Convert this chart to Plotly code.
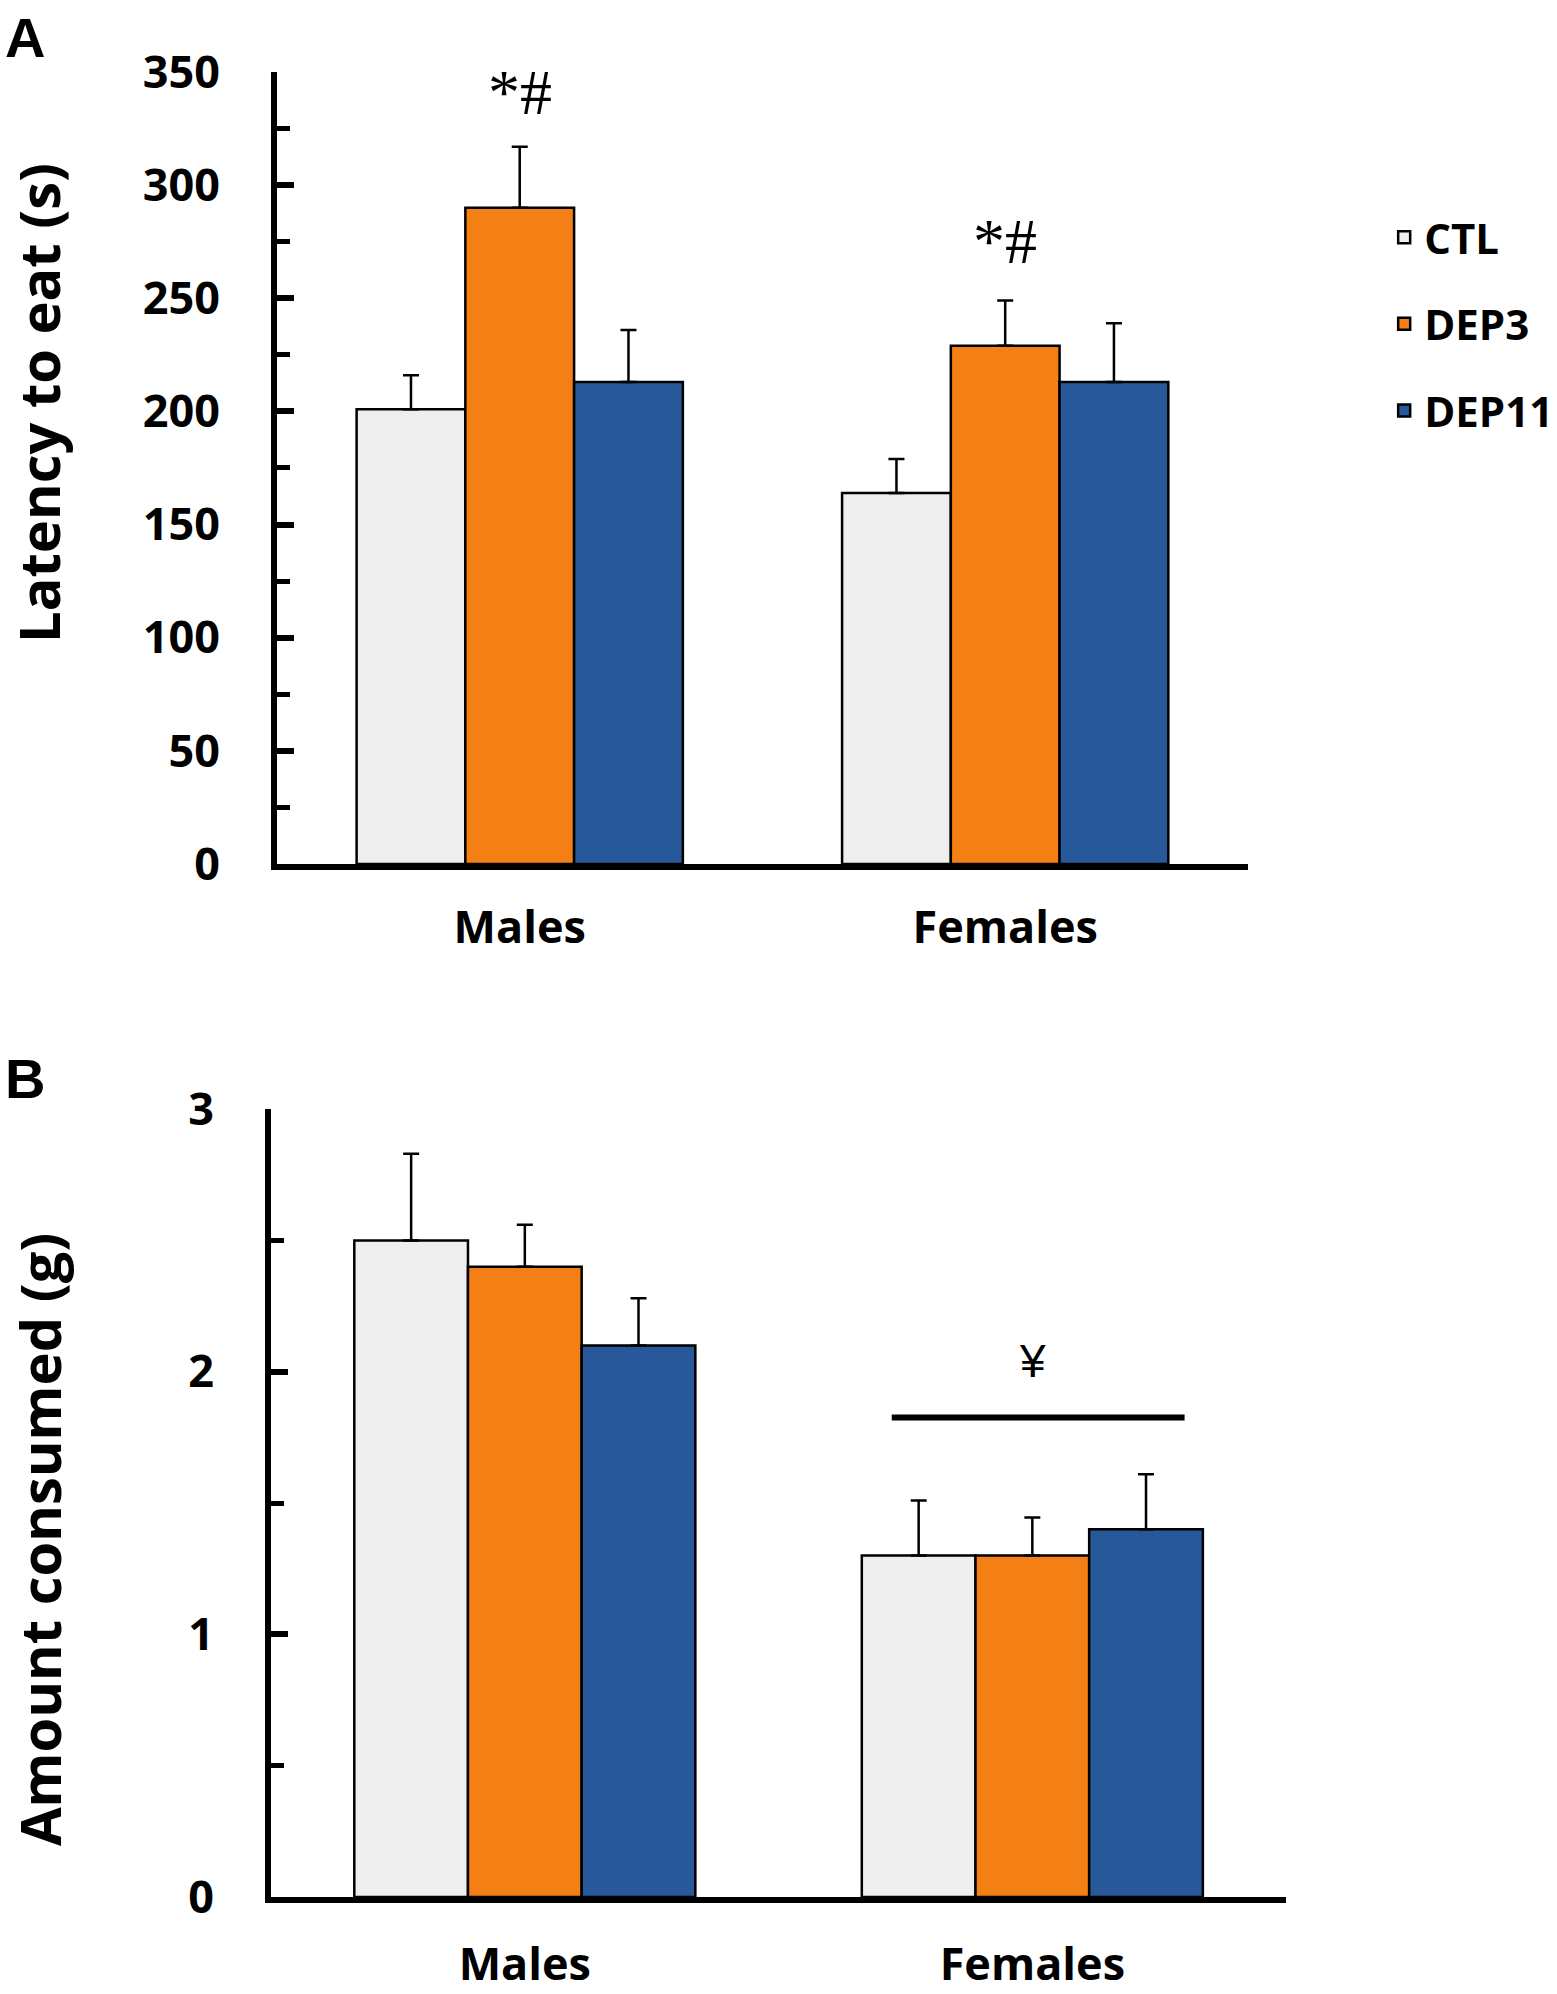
import plotly.graph_objects as go

groups = ["Males", "Females"]
series = ["CTL", "DEP3", "DEP11"]

latency_ctl = [201, 164]
latency_dep3 = [290, 229]
latency_dep11 = [213, 213]
latency_ctl_err = [15, 15]
latency_dep3_err = [27, 20]
latency_dep11_err = [23, 26]

amount_ctl = [2.5, 1.3]
amount_dep3 = [2.4, 1.3]
amount_dep11 = [2.1, 1.4]
amount_ctl_err = [0.33, 0.21]
amount_dep3_err = [0.16, 0.145]
amount_dep11_err = [0.18, 0.21]

yticks_a = [0, 50, 100, 150, 200, 250, 300, 350]
yticks_b = [0, 1, 2, 3]

colors = {"CTL": "#EEEEEE", "DEP3": "#F47F14", "DEP11": "#27599A"}

fig = go.Figure()

lat_vals = {"CTL": (latency_ctl, latency_ctl_err),
            "DEP3": (latency_dep3, latency_dep3_err),
            "DEP11": (latency_dep11, latency_dep11_err)}
amt_vals = {"CTL": (amount_ctl, amount_ctl_err),
            "DEP3": (amount_dep3, amount_dep3_err),
            "DEP11": (amount_dep11, amount_dep11_err)}

for s in series:
    v, e = lat_vals[s]
    fig.add_trace(go.Bar(
        x=groups, y=v, name=s, legendgroup=s, showlegend=True,
        marker=dict(color=colors[s], line=dict(color="black", width=2.5)),
        error_y=dict(type="data", array=e, arrayminus=[0]*len(e), symmetric=False,
                     color="black", thickness=2.5, width=8),
        xaxis="x", yaxis="y"))
for s in series:
    v, e = amt_vals[s]
    fig.add_trace(go.Bar(
        x=groups, y=v, name=s, legendgroup=s, showlegend=False,
        marker=dict(color=colors[s], line=dict(color="black", width=2.5)),
        error_y=dict(type="data", array=e, arrayminus=[0]*len(e), symmetric=False,
                     color="black", thickness=2.5, width=8),
        xaxis="x2", yaxis="y2"))

tickfont = dict(family="Open Sans", size=45, color="black", weight="bold")
catfont = dict(family="Open Sans", size=45, color="black", weight="bold")

fig.update_layout(
    width=1557, height=1994,
    margin=dict(l=0, r=0, t=0, b=0, autoexpand=False),
    paper_bgcolor="white", plot_bgcolor="white",
    barmode="group", bargap=0.328, bargroupgap=0,
    showlegend=True,
    legend=dict(x=0.889, y=0.898, xanchor="left", yanchor="top",
                font=dict(family="Open Sans", size=42, color="black", weight="bold"),
                tracegroupgap=29, bgcolor="rgba(0,0,0,0)"),
    xaxis=dict(domain=[0.1779, 0.8015], anchor="y", type="category", automargin=False,
               range=[-0.5, 1.5], showline=True, linecolor="black", linewidth=6,
               ticks="", tickfont=catfont, ticklabelstandoff=19, showgrid=False,
               zeroline=False),
    yaxis=dict(domain=[0.5667, 0.9639], anchor="x", range=[0, 350], automargin=False,
               tickvals=yticks_a, showline=True, linecolor="black", linewidth=6,
               ticks="inside", ticklen=17, tickwidth=6, tickcolor="black",
               minor=dict(dtick=25, ticks="inside", ticklen=13, tickwidth=5, tickcolor="black"),
               tickfont=tickfont, ticklabelstandoff=42, showgrid=False, zeroline=False),
    xaxis2=dict(domain=[0.1741, 0.826], anchor="y2", type="category", automargin=False,
                range=[-0.5, 1.5], showline=True, linecolor="black", linewidth=6,
                ticks="", tickfont=catfont, ticklabelstandoff=23, showgrid=False,
                zeroline=False),
    yaxis2=dict(domain=[0.0486, 0.4438], anchor="x2", range=[0, 3], automargin=False,
                tickvals=yticks_b, showline=True, linecolor="black", linewidth=6,
                ticks="inside", ticklen=17, tickwidth=6, tickcolor="black",
                minor=dict(dtick=0.5, ticks="inside", ticklen=13, tickwidth=5, tickcolor="black"),
                tickfont=tickfont, ticklabelstandoff=42, showgrid=False, zeroline=False),
)

annots = [
    dict(text="A", x=0.002, y=0.998, xref="paper", yref="paper", xanchor="left", yanchor="top",
         showarrow=False, font=dict(family="Liberation Sans", size=56, color="black", weight="bold")),
    dict(text="B", x=0.002, y=0.476, xref="paper", yref="paper", xanchor="left", yanchor="top",
         showarrow=False, font=dict(family="Liberation Sans", size=56, color="black", weight="bold")),
    dict(text="Latency to eat (s)", x=0.0245, y=0.798, xref="paper", yref="paper",
         xanchor="center", yanchor="middle", textangle=-90, showarrow=False,
         font=dict(family="Open Sans", size=56, color="black", weight="bold")),
    dict(text="Amount consumed (g)", x=0.0255, y=0.228, xref="paper", yref="paper",
         xanchor="center", yanchor="middle", textangle=-90, showarrow=False,
         font=dict(family="Open Sans", size=56, color="black", weight="bold")),
    dict(text="*#", x="Males", y=341, xref="x", yref="y", xanchor="center", yanchor="middle",
         showarrow=False, font=dict(family="Liberation Serif", size=64, color="black")),
    dict(text="*#", x="Females", y=275, xref="x", yref="y", xanchor="center", yanchor="middle",
         showarrow=False, font=dict(family="Liberation Serif", size=64, color="black")),
    dict(text="¥", x="Females", y=2.04, xref="x2", yref="y2", xanchor="center", yanchor="middle",
         showarrow=False, font=dict(family="Liberation Sans", size=46, color="black")),
]
fig.update_layout(annotations=annots)

fig.add_shape(type="line", xref="x2", yref="y2", x0=0.723, x1=1.30, y0=1.826, y1=1.826,
              line=dict(color="black", width=6))

fig.write_html("out.html", config={"displayModeBar": False},
               post_script="document.body.style.margin='0';document.body.style.padding='0';")
